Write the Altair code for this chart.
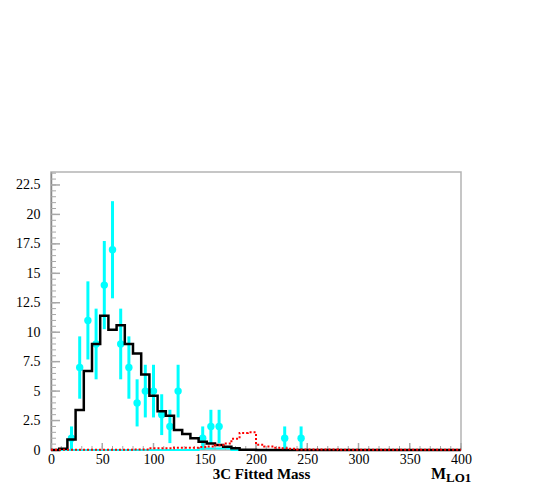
import altair as alt
import pandas as pd

# ---- data ----
bin_width = 8
black_counts = [0.0, 0.1, 0.9, 3.4, 6.7, 9.0, 11.4, 10.2, 10.6, 9.0,
                8.2, 6.4, 4.6, 3.3, 2.9, 1.7, 1.36, 1.0, 0.7, 0.55,
                0.42, 0.28, 0.14, 0.02, 0.02, 0.0, 0.0, 0.0, 0.0, 0.0,
                0.0, 0.0, 0.0, 0.0, 0.0, 0.0, 0.0, 0.0, 0.0, 0.0,
                0.0, 0.0, 0.0, 0.0, 0.0, 0.0, 0.0, 0.0, 0.0, 0.0]
red_counts = [0.02, 0.02, 0.02, 0.02, 0.02, 0.02, 0.02, 0.02, 0.02, 0.02,
              0.05, 0.05, 0.15, 0.15, 0.15, 0.2, 0.2, 0.2, 0.25, 0.3,
              0.4, 0.55, 0.95, 1.45, 1.5, 0.45, 0.3, 0.2, 0.15, 0.1,
              0.05, 0.05, 0.05, 0.05, 0.05, 0.02, 0.02, 0.02, 0.02, 0.02,
              0.02, 0.02, 0.02, 0.02, 0.02, 0.02, 0.02, 0.02, 0.02, 0.02]
cyan_hist_counts = [0.0] * 18 + [0.12, 0.12, 0.12, 0.12] + [0.0] * 28

data_x = [20, 28, 36, 44, 52, 60, 68, 76, 84, 92, 100, 108, 116, 124,
          148, 156, 164, 228, 244]
data_n = [1, 7, 11, 9, 14, 17, 9, 7, 4, 5, 5, 3, 2, 5, 1, 2, 2, 1, 1]

x_labels = [0, 50, 100, 150, 200, 250, 300, 350, 400]
y_labels = [0, 2.5, 5, 7.5, 10, 12.5, 15, 17.5, 20, 22.5]
y_max = 23.6

x_title = "3C Fitted Mass"
m_main = "M"
m_sub = "LO1"

# ---- build tables ----
def step_df(counts):
    edges = [i * bin_width for i in range(len(counts) + 1)]
    vals = list(counts) + [counts[-1]]
    return pd.DataFrame({"x": edges, "y": vals})

black_df = step_df(black_counts)
red_df = step_df(red_counts)
cyan_df = step_df(cyan_hist_counts)
pts = pd.DataFrame({"x": data_x, "n": data_n})
pts["lo"] = pts["n"] - pts["n"] ** 0.5
pts["hi"] = pts["n"] + pts["n"] ** 0.5

y_major = pd.DataFrame({"v": y_labels})
y_minor = pd.DataFrame({"v": [i * 0.5 for i in range(48)]})
x_major = pd.DataFrame({"v": x_labels})
x_minor = pd.DataFrame({"v": [i * 10 for i in range(41)]})

W, H = 410, 278
xs = alt.Scale(domain=[0, 400], nice=False)
ys = alt.Scale(domain=[0, y_max], nice=False)
serif = "Liberation Serif"
tick_col = "#a8a8a8"

x_axis = alt.Axis(values=x_labels, ticks=False, domain=False, grid=False,
                  labelFont=serif, labelFontSize=14, labelColor="#000",
                  labelFlush=False, labelOverlap=False, labelPadding=2,
                  title=x_title, titleFont=serif, titleFontSize=15,
                  titleFontWeight="bold", titleColor="#000",
                  titleX=210, titleY=28, titleBaseline="alphabetic",
                  titleAlign="center", titleAnchor="start")
y_axis = alt.Axis(values=y_labels, labelExpr="toString(datum.value)",
                  ticks=False, domain=True,
                  domainColor="#8a8a8a", domainWidth=1.5, grid=False,
                  labelFont=serif, labelFontSize=14, labelColor="#000",
                  labelPadding=11, title=None)

X = lambda f: alt.X(f, scale=xs, axis=x_axis, title=x_title)
Y = lambda f: alt.Y(f, scale=ys, axis=y_axis, title=None)

cyan_h = alt.Chart(cyan_df).mark_line(interpolate="step-after", color="#00ffff",
                                      strokeWidth=2).encode(
    x=X("x:Q"), y=Y("y:Q"))

err = alt.Chart(pts).mark_rule(color="#00ffff", strokeWidth=3).encode(
    x=X("x:Q"), y=Y("lo:Q"), y2="hi:Q")

mk = alt.Chart(pts).mark_point(filled=True, shape="circle", size=55,
                               color="#00ffff", opacity=1).encode(
    x=X("x:Q"), y=Y("n:Q"))

black = alt.Chart(black_df).mark_line(interpolate="step-after", color="#000000",
                                      strokeWidth=2.5).encode(
    x=X("x:Q"), y=Y("y:Q"))

red = alt.Chart(red_df).mark_line(interpolate="step-after", color="#ff0000",
                                  strokeWidth=2, strokeDash=[2, 2]).encode(
    x=X("x:Q"), y=Y("y:Q"))

ytm = alt.Chart(y_major).mark_rule(color=tick_col, strokeWidth=1.5).encode(
    y=Y("v:Q"), x=alt.value(0), x2=alt.value(9))
ytn = alt.Chart(y_minor).mark_rule(color=tick_col, strokeWidth=1).encode(
    y=Y("v:Q"), x=alt.value(0), x2=alt.value(5))
xtm = alt.Chart(x_major).mark_rule(color=tick_col, strokeWidth=1.5).encode(
    x=X("v:Q"), y=alt.value(H), y2=alt.value(H - 7))
xtn = alt.Chart(x_minor).mark_rule(color=tick_col, strokeWidth=1).encode(
    x=X("v:Q"), y=alt.value(H), y2=alt.value(H - 4))

t_m = alt.Chart(pd.DataFrame({"t": [m_main]})).mark_text(
    font=serif, fontSize=16, fontWeight="bold", align="left",
    baseline="alphabetic", color="#000").encode(
    text="t:N", x=alt.value(380), y=alt.value(307))
t_s = alt.Chart(pd.DataFrame({"t": [m_sub]})).mark_text(
    font=serif, fontSize=13, fontWeight="bold", align="left",
    baseline="alphabetic", color="#000").encode(
    text="t:N", x=alt.value(395), y=alt.value(310))

chart = alt.layer(cyan_h, ytn, ytm, xtn, xtm, err, mk, black, red, t_m, t_s).properties(
    width=W, height=H,
    autosize=alt.AutoSizeParams(type="none"),
    padding={"left": 43, "top": 164, "right": 85, "bottom": 40},
    background="white",
).configure_view(stroke="#b4b4b4", strokeWidth=1.5)

chart.save("out.html", embed_options={"renderer": "svg", "actions": False})
